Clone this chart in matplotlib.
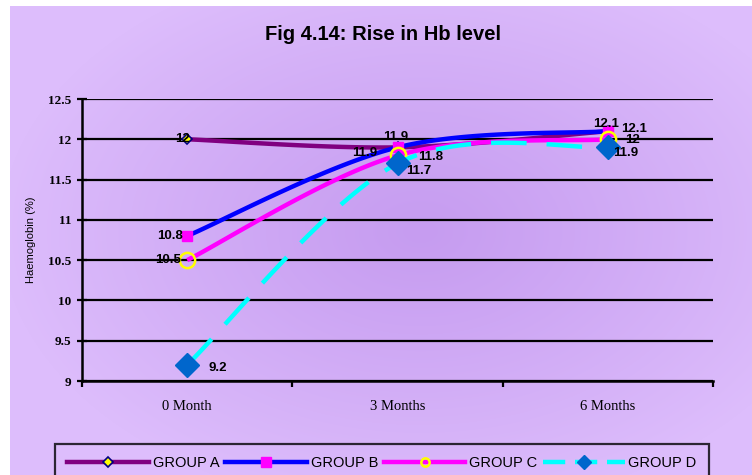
import numpy as np
import matplotlib.pyplot as plt
from matplotlib.lines import Line2D

# Hb values per group at each visit
months = ["0 Month", "3 Months", "6 Months"]
group_a = [12.0, 11.9, 12.1]
group_b = [10.8, 11.9, 12.1]
group_c = [10.5, 11.8, 12.0]
group_d = [9.2, 11.7, 11.9]


def smooth(xs, ys, n=60):
    # bezier smoothing, control points from neighbouring points
    p = np.column_stack([xs, ys]).astype(float)
    out = []
    for i in range(len(p) - 1):
        p0 = p[max(i - 1, 0)]
        p1 = p[i]
        p2 = p[i + 1]
        p3 = p[min(i + 2, len(p) - 1)]
        c1 = p1 + (p2 - p0) / 6
        c2 = p2 - (p3 - p1) / 6
        t = np.linspace(0, 1, n)[:, None]
        seg = ((1 - t) ** 3) * p1 + 3 * ((1 - t) ** 2) * t * c1 + 3 * (1 - t) * t ** 2 * c2 + t ** 3 * p2
        out.append(seg if i == 0 else seg[1:])
    out = np.vstack(out)
    return out[:, 0], out[:, 1]


W, H = 752, 475
fig = plt.figure(figsize=(W / 100, H / 100), dpi=100)
fig.patch.set_facecolor("white")

# lavender background with darker centre
bg = fig.add_axes([10 / W, 0, (W - 10) / W, (H - 6) / H])
bg.set_axis_off()
gw, gh = W - 10, H - 6
gx, gy = np.meshgrid(np.arange(gw), np.arange(gh))
d = np.sqrt(((gx - 410) / 420) ** 2 + ((gy - 225) / 280) ** 2)
d = np.clip(d, 0, 1) ** 1.1
centre = np.array([198, 156, 240]) / 255
edge = np.array([221, 189, 252]) / 255
img = centre[None, None, :] + (edge - centre)[None, None, :] * d[:, :, None]
bg.imshow(img, aspect="auto", interpolation="bilinear")

ax = fig.add_axes([82 / W, (H - 381) / H, 631 / W, 282 / H])
ax.set_facecolor("none")
ax.set_zorder(2)

x = np.arange(len(months))
lw = 3.2

xa, ya = smooth(x, group_a)
ax.plot(xa, ya, color="#800080", lw=lw, solid_capstyle="butt", zorder=3)
ax.plot(x, group_a, ls="none", marker="D", ms=5, mfc="#FFFF00", mec="#000080", mew=1.2, zorder=4)

xb, yb = smooth(x, group_b)
ax.plot(xb, yb, color="#0000FF", lw=lw, solid_capstyle="butt", zorder=5)
ax.plot(x, group_b, ls="none", marker="s", ms=6.5, mfc="#FF00FF", mec="#FF00FF", zorder=6)

xc, yc = smooth(x, group_c)
ax.plot(xc, yc, color="#FF00FF", lw=lw, solid_capstyle="butt", zorder=7)
ax.plot(x, group_c, ls="none", marker="o", ms=11, mfc="none", mec="#FFFF00", mew=1.8, zorder=8)

xd, yd = smooth(x, group_d)
ax.plot(xd, yd, color="#00FFFF", lw=lw, ls=(0, (8, 4.5)), dash_capstyle="butt", zorder=9)
ax.plot(x, group_d, ls="none", marker="D", ms=12, mfc="#0066CC", mec="#0066CC", zorder=10)

# value labels: (series, index, dx px, dy px, ha)
labels = [
    (group_a, 0, 3, 0, "right"),
    (group_a, 1, -20, -6, "right"),
    (group_a, 2, 13, 2, "left"),
    (group_b, 0, -4, 0, "right"),
    (group_b, 1, -2, 10, "center"),
    (group_b, 2, -2, 7, "center"),
    (group_c, 0, -6, 0, "right"),
    (group_c, 1, 21, -2, "left"),
    (group_c, 2, 17, -1, "left"),
    (group_d, 0, 21, -3, "left"),
    (group_d, 1, 9, -8, "left"),
    (group_d, 2, 5, -6, "left"),
]
for series, i, dx, dy, ha in labels:
    v = series[i]
    txt = "%g" % v
    ax.annotate(txt, (i, v), xytext=(dx, dy), textcoords="offset pixels",
                ha=ha, va="center", fontsize=9.5, fontweight="bold",
                family="Liberation Sans", zorder=12)

ax.set_xlim(-0.5, 2.5)
ax.set_ylim(9, 12.5)
ax.set_yticks(np.arange(9, 12.51, 0.5))
ax.set_yticklabels(["%g" % v for v in np.arange(9, 12.51, 0.5)],
                   family="Liberation Serif", fontweight="bold", fontsize=9.5)
ax.yaxis.grid(True, color="black", lw=1.6)
ax.set_axisbelow(True)

ax.set_xticks(x)
ax.set_xticklabels(months, family="Liberation Serif", fontsize=10.5)
ax.set_xticks([-0.5, 0.5, 1.5, 2.5], minor=True)
ax.tick_params(axis="x", which="major", length=0, pad=14)
ax.tick_params(axis="x", which="minor", direction="out", length=4, width=1.6)
ax.tick_params(axis="y", direction="inout", length=7, width=1.6, pad=4)

for s in ["top", "right"]:
    ax.spines[s].set_visible(False)
ax.spines["left"].set_linewidth(1.8)
ax.spines["bottom"].set_linewidth(1.8)

ax.set_ylabel("Haemoglobin (%)", family="Liberation Sans", fontsize=8, labelpad=9)

fig.text(383 / W, 1 - 35 / H, "Fig 4.14: Rise in Hb level", ha="center", va="center",
         fontsize=14.5, fontweight="bold", family="Liberation Sans")

handles = [
    Line2D([], [], color="#800080", lw=lw, marker="D", ms=5, mfc="#FFFF00", mec="#000080", mew=1.2),
    Line2D([], [], color="#0000FF", lw=lw, marker="s", ms=6.5, mfc="#FF00FF", mec="#FF00FF"),
    Line2D([], [], color="#FF00FF", lw=lw, marker="o", ms=6, mfc="none", mec="#FFFF00", mew=1.8),
    Line2D([], [], color="#00FFFF", lw=lw, ls=(0, (5, 2.2)), marker="D", ms=7, mfc="#0066CC", mec="#0066CC"),
]
leg = fig.legend(handles, ["GROUP A", "GROUP B", "GROUP C", "GROUP D"],
                 loc="upper left", bbox_to_anchor=(55 / W, 0, 654 / W, 1 - 444 / H),
                 mode="expand", ncol=4, frameon=True, fancybox=False,
                 handlelength=5.6, handletextpad=0.25, columnspacing=0.9,
                 borderaxespad=0, borderpad=0.85,
                 prop={"family": "Liberation Sans", "size": 10.5})
leg.get_frame().set_edgecolor("black")
leg.get_frame().set_linewidth(1.6)
leg.get_frame().set_facecolor("none")

fig.savefig("out.png", dpi=100)
